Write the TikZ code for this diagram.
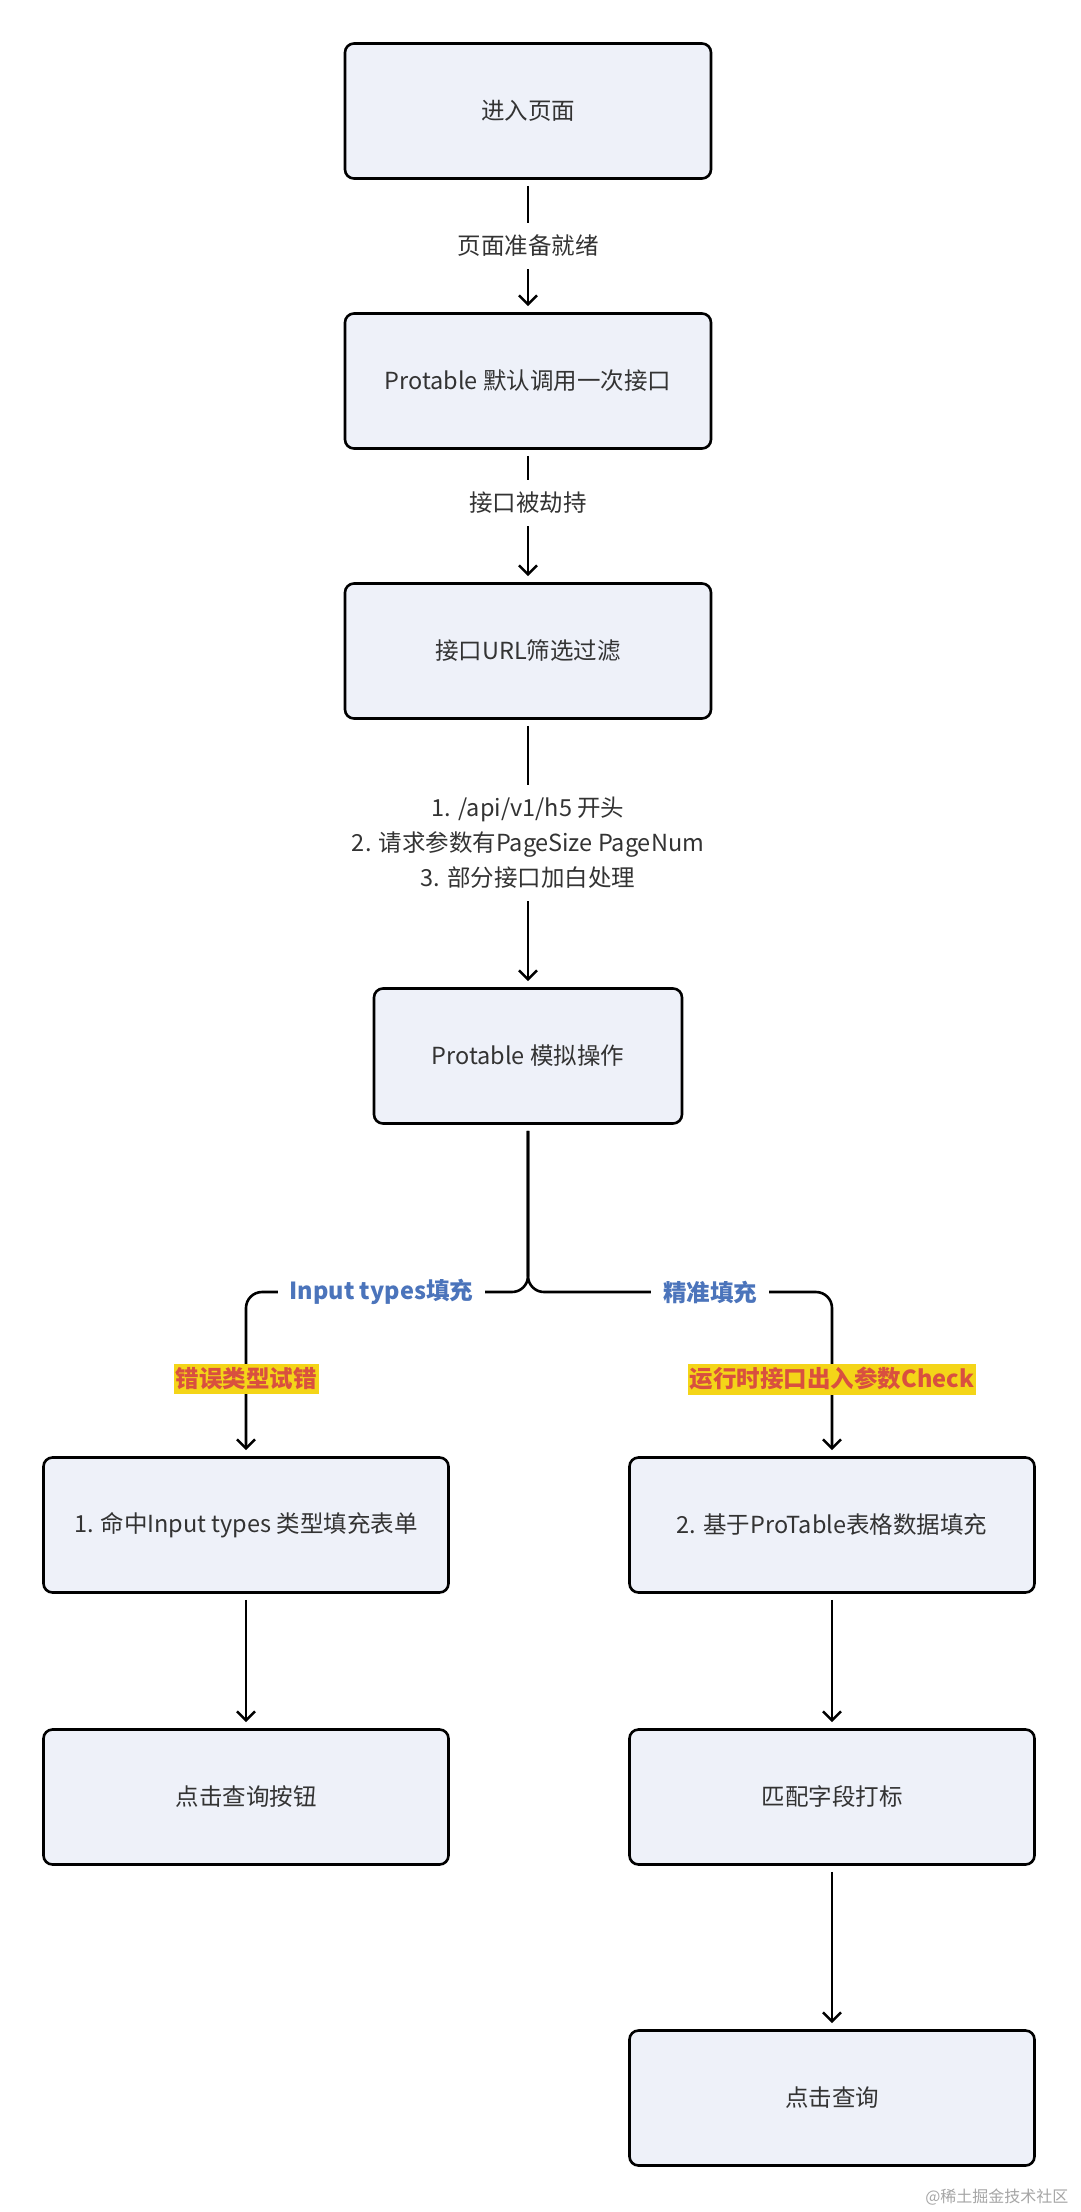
\documentclass[tikz,border=0pt]{standalone}
\usepackage{fontspec}
\setmainfont{Noto Sans CJK SC}
\usetikzlibrary{arrows.meta}
\definecolor{boxfill}{HTML}{EEF1F9}
\definecolor{txtgray}{HTML}{333333}
\definecolor{lblblue}{HTML}{4B74BB}
\definecolor{hlyellow}{HTML}{F4D518}
\definecolor{hlred}{HTML}{D9503F}

\begin{document}
\begin{tikzpicture}[x=1pt, y=-1pt,
    every node/.style={font=\fontsize{23.5}{28}\selectfont, text=txtgray},
    stepbox/.style={draw=black, line width=2.6pt, rounded corners=9pt, fill=boxfill, minimum height=135pt},
    flow/.style={draw=black, line width=2.6pt, -{Straight Barb[length=9pt,width=18pt]}, shorten >=6pt, shorten <=6pt},
    edgelbl/.style={fill=white, inner xsep=4pt, inner ysep=12pt},
    branchlbl/.style={fill=white, sharp corners, text=lblblue, font=\fontsize{23.5}{28}\selectfont\bfseries, inner xsep=12pt},
    warnlbl/.style={fill=hlyellow, sharp corners, text=hlred, font=\fontsize{23.5}{28}\selectfont\bfseries, inner xsep=2pt, inner ysep=4pt}
]
\useasboundingbox[fill=white] (0,0) rectangle (1080,2212);

% -------- tronco principal --------
\node[stepbox, minimum width=366pt] (enter) at (528,111) {进入页面};
\node[stepbox, minimum width=366pt] (call) at (528,381) {Protable 默认调用一次接口};
\node[stepbox, minimum width=366pt] (filter) at (528,651) {接口URL筛选过滤};
\node[stepbox, minimum width=308pt] (mock) at (528,1056) {Protable 模拟操作};

\draw[flow] (enter) -- node[edgelbl]{页面准备就绪} (call);
\draw[flow] (call) -- node[edgelbl, pos=0.4]{接口被劫持} (filter);
\draw[flow] (filter) -- node[edgelbl, pos=0.46, align=center, font=\fontsize{23.5}{35}\selectfont]
    {1. /api/v1/h5 开头\\2. 请求参数有PageSize PageNum\\3. 部分接口加白处理} (mock);

% -------- dos ramas --------
\node[stepbox, minimum width=405pt] (typefill) at (246,1525) {1. 命中Input types 类型填充表单};
\node[stepbox, minimum width=405pt] (exactfill) at (832,1525) {2. 基于ProTable表格数据填充};
\node[stepbox, minimum width=405pt] (query) at (246,1797) {点击查询按钮};
\node[stepbox, minimum width=405pt] (mark) at (832,1797) {匹配字段打标};
\node[stepbox, minimum width=405pt] (search) at (832,2098) {点击查询};

\coordinate (fork) at (528,1292); % bifurcación

\draw[flow, rounded corners=16pt] (mock) -- (fork) -| node[branchlbl, pos=0.26]{Input types填充}
    node[warnlbl, pos=0.765]{错误类型试错} (typefill.north);
\draw[flow, rounded corners=16pt] (mock) -- (fork) -| node[branchlbl, pos=0.30]{精准填充}
    node[warnlbl, pos=0.765]{运行时接口出入参数Check} (exactfill.north);

\draw[flow] (typefill) -- (query);
\draw[flow] (exactfill) -- (mark);
\draw[flow] (mark) -- (search);

\node[font=\fontsize{16}{18}\selectfont, text=black!35, anchor=east] (credit) at (1072,2197) {@稀土掘金技术社区};
\end{tikzpicture}
\end{document}
